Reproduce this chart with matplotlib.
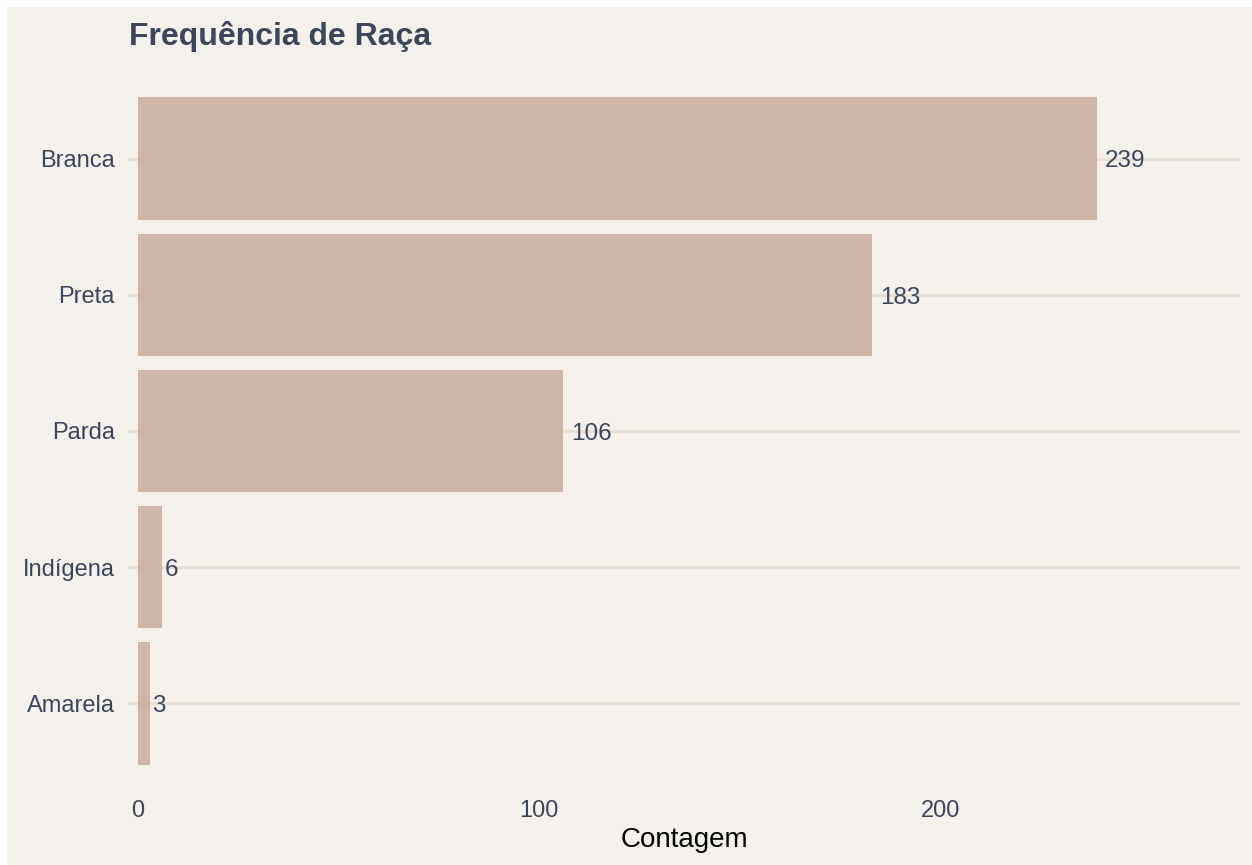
import matplotlib
matplotlib.use("Agg")
import matplotlib.pyplot as plt
from matplotlib.patches import Rectangle

categories = ["Amarela", "Indígena", "Parda", "Preta", "Branca"]
counts = [3, 6, 106, 183, 239]
xticks = [0, 100, 200]

BG = "#F4F1EC"
BAR = "#C9AFA1"
GRID = "#E9DFD4"
TXT = "#3D4659"

plt.rcParams["font.family"] = ["Liberation Sans", "DejaVu Sans"]

W, H = 1252, 865
fig = plt.figure(figsize=(W / 100, H / 100), dpi=100, facecolor="white")
fig.patches.append(Rectangle((7 / W, 0), 1 - 7 / W, 1 - 7 / H, transform=fig.transFigure,
                             facecolor=BG, edgecolor="none", zorder=-10))

left, right, top, bottom = 128, 1240, 77, 785
ax = fig.add_axes([left / W, 1 - bottom / H, (right - left) / W, (bottom - top) / H])
ax.set_facecolor("none")

ypos = list(range(1, len(categories) + 1))
for y in ypos:
    ax.axhline(y, color=GRID, lw=2.2, zorder=0)
ax.barh(ypos, counts, height=0.9, color=BAR, alpha=0.9, zorder=1)

fs_val = 17.5
for y, c in zip(ypos, counts):
    lab = str(c)
    off = 0.2 * len(lab) * 0.556 * fs_val
    ax.annotate(lab, (c, y), xytext=(off, -2), textcoords="offset points",
                ha="left", va="center", fontsize=fs_val, color=TXT, zorder=3)

ax.set_xlim(-2.4, 274.7)
ax.set_ylim(0.4, 5.6)
ax.set_yticks(ypos)
ax.set_yticklabels(categories)
ax.set_xticks(xticks)
ax.set_xticklabels([str(t) for t in xticks])
ax.tick_params(axis="both", length=0, colors=TXT, labelsize=17)
ax.tick_params(axis="y", pad=9.5)
ax.tick_params(axis="x", pad=11)
for s in ax.spines.values():
    s.set_visible(False)

ax.set_xlabel("Contagem", fontsize=20, color="black", labelpad=3.5)

fig.text(129 / W, 1 - 45.5 / H, "Frequência de Raça", fontsize=23, fontweight="bold",
         color=TXT, ha="left", va="baseline")

fig.savefig("out.png", dpi=100, facecolor="white")
